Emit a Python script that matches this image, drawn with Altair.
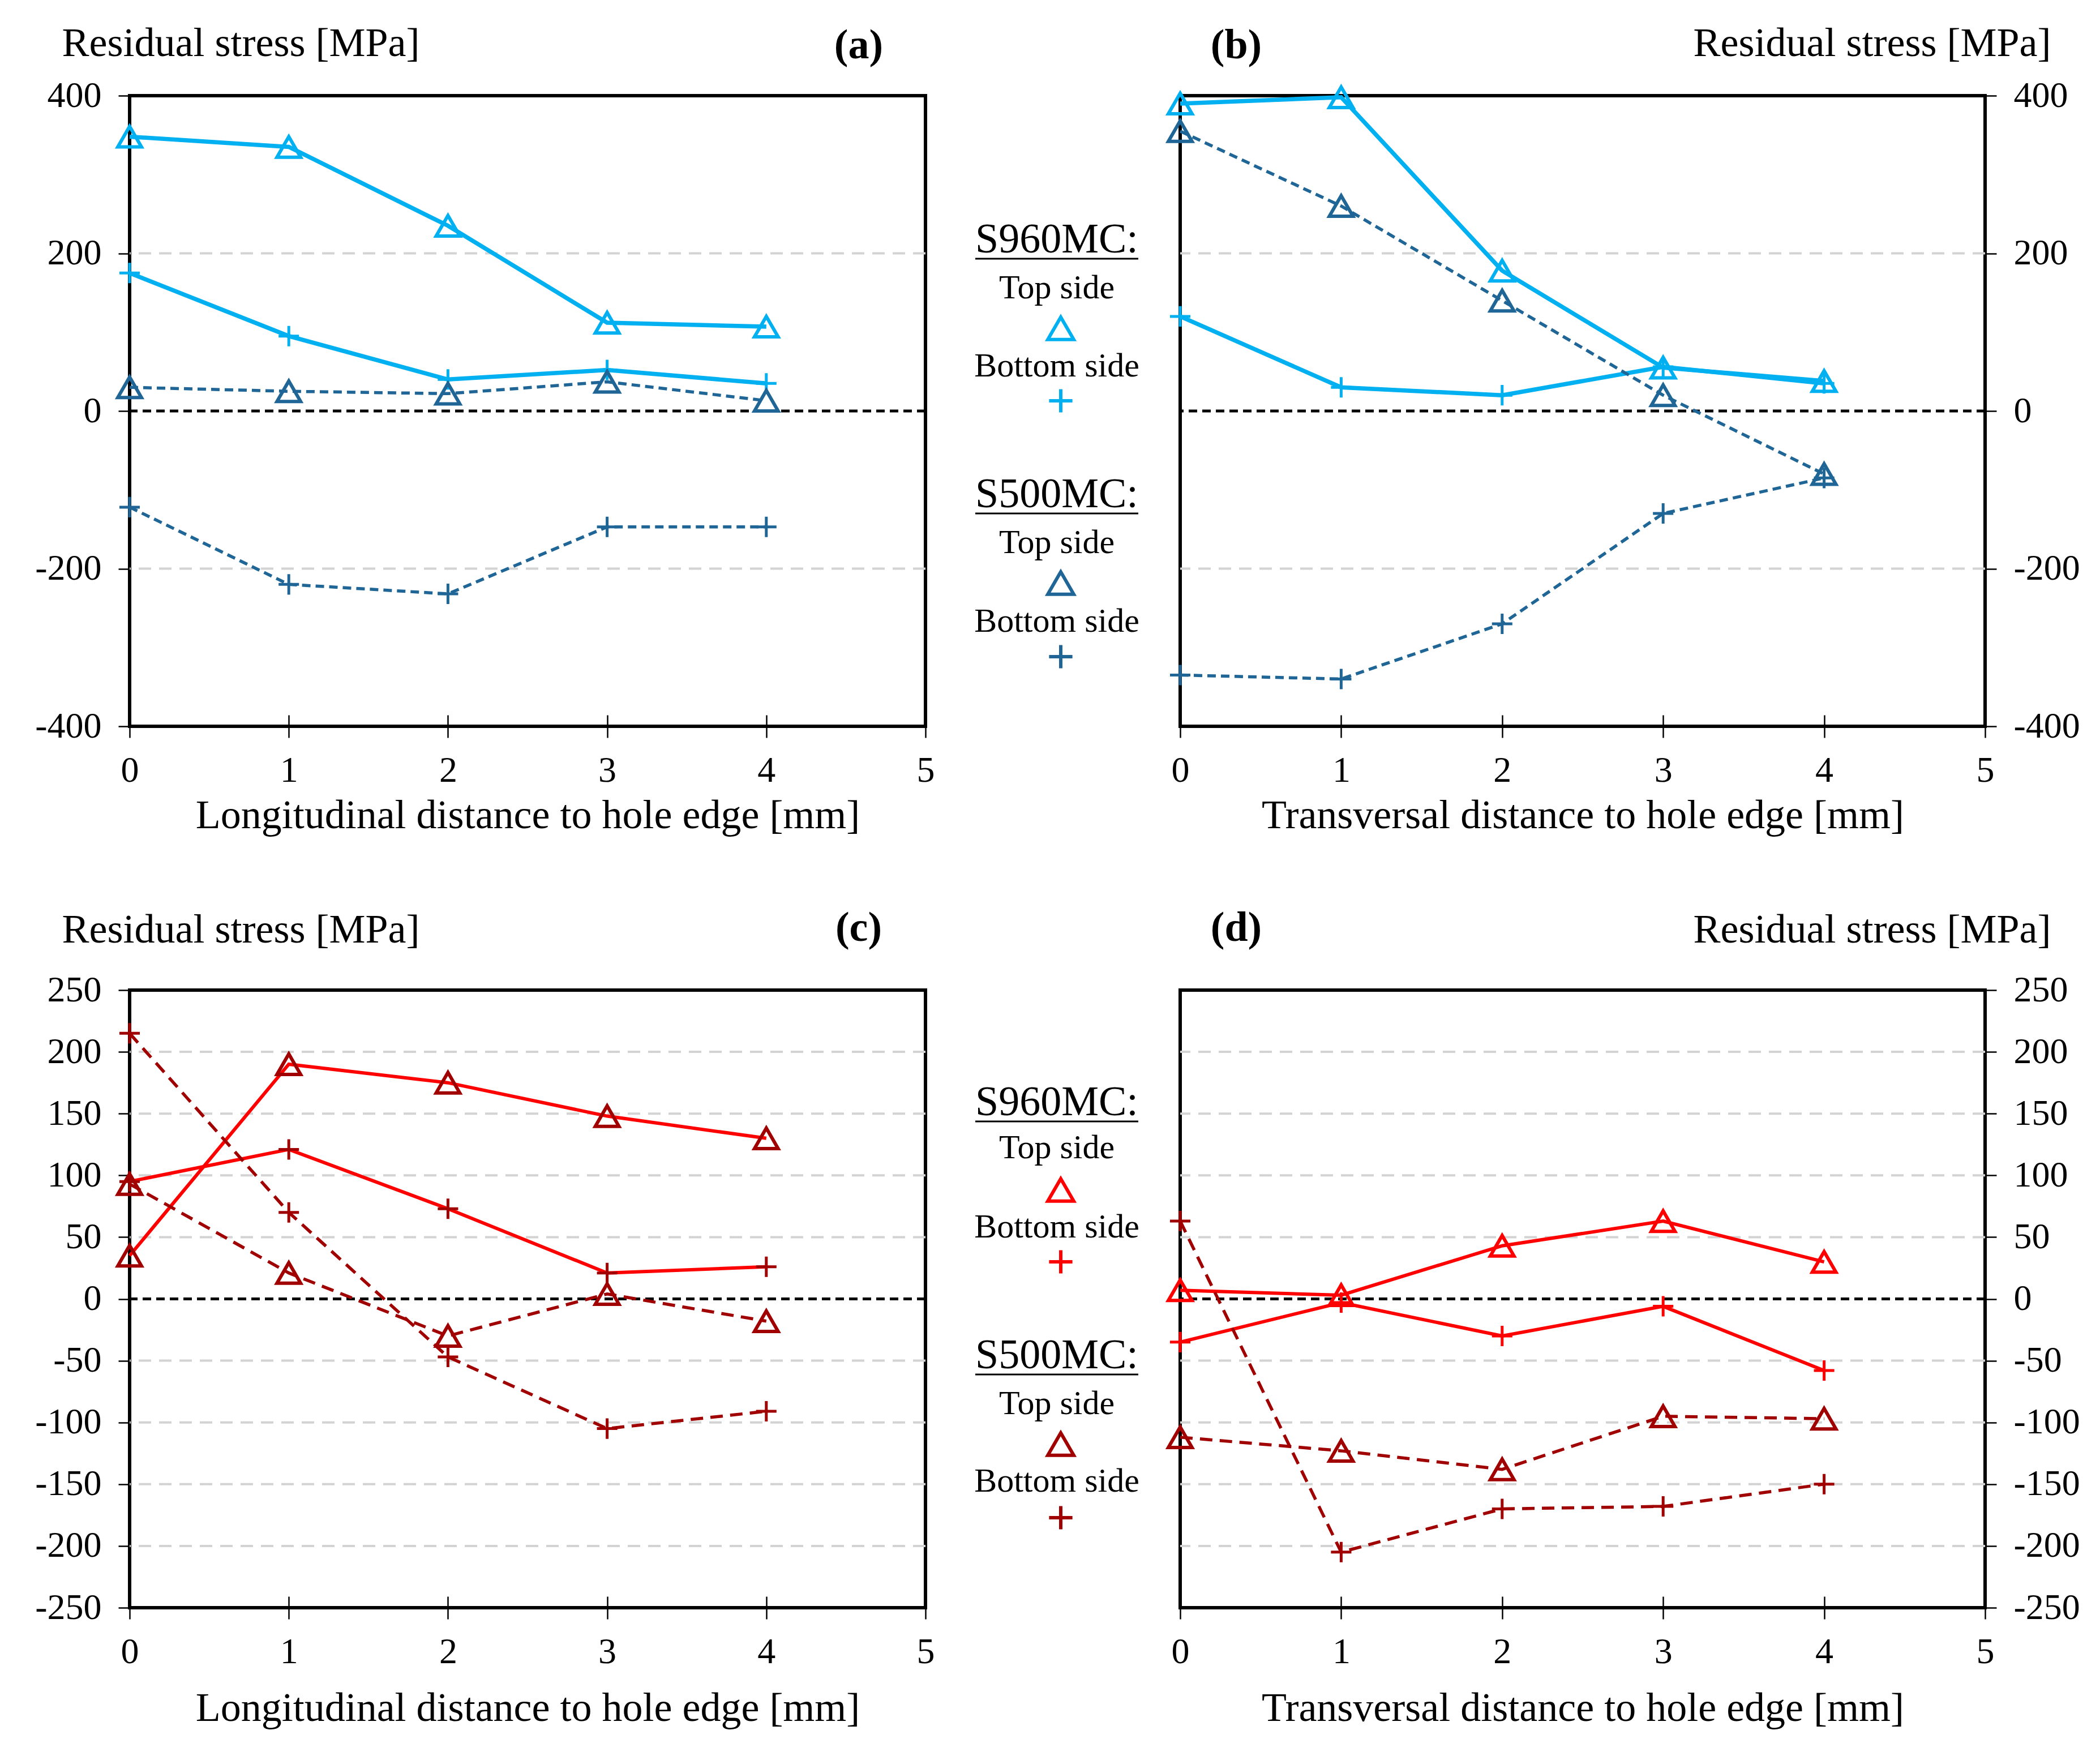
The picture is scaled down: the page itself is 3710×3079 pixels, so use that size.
import altair as alt
import pandas as pd

FONT = "Liberation Serif"
X = [0, 1, 2, 3, 4]
X_TICKS = [0, 1, 2, 3, 4, 5]

# Panel (a): longitudinal, S960MC / S500MC
a_960_top = [348, 335, 235, 112, 107]
a_960_bot = [175, 95, 40, 52, 35]
a_500_top = [30, 25, 22, 37, 13]
a_500_bot = [-122, -220, -232, -147, -147]
# Panel (b): transversal
b_960_top = [390, 398, 178, 55, 38]
b_960_bot = [120, 30, 20, 56, 35]
b_500_top = [355, 260, 140, 20, -80]
b_500_bot = [-335, -340, -270, -130, -85]
# Panel (c): longitudinal
c_960_top = [35, 190, 175, 148, 130]
c_960_bot = [95, 121, 73, 21, 26]
c_500_top = [93, 21, -30, 4, -18]
c_500_bot = [215, 70, -47, -105, -91]
# Panel (d): transversal
d_960_top = [7, 3, 43, 63, 30]
d_960_bot = [-35, -3, -30, -6, -58]
d_500_top = [-112, -123, -138, -95, -97]
d_500_bot = [63, -205, -170, -168, -150]

TICKS_400 = [-400, -200, 0, 200, 400]
GRID_400 = [-200, 200]
TICKS_250 = [-250, -200, -150, -100, -50, 0, 50, 100, 150, 200, 250]
GRID_250 = [-200, -150, -100, -50, 50, 100, 150, 200]

LBLUE = "#00B0F0"
DBLUE = "#1F6697"
RED = "#FF0000"
DRED = "#A00000"
PLUS = "M-1,0H1M0,-1V1"

W_L, W_R = 1406, 1422
H_TOP, H_BOT = 1114, 1091


def panel(series, ydom, yticks, grid_vals, orient, W, H, xtitle, label,
          label_x, label_y, title_y, title_pad, legend=None):
    yaxis_kw = dict(
        values=yticks, orient=orient, grid=False, domain=False,
        tickSize=20, tickWidth=2.5, tickColor="black",
        labelFont=FONT, labelFontSize=64, labelColor="black", labelPadding=30,
        labelFlush=False, labelOverlap=False, labelExpr="'' + datum.value",
        title="Residual stress [MPa]", titleFont=FONT, titleFontSize=72,
        titleFontWeight="normal", titleColor="black", titleAngle=0,
        titleBaseline="alphabetic", titleY=title_y,
    )
    if orient == "left":
        yaxis_kw.update(titleAlign="left", titleX=-120)
    else:
        yaxis_kw.update(titleAlign="right", titleX=116)
    yaxis = alt.Axis(**yaxis_kw)
    xaxis = alt.Axis(
        values=X_TICKS, orient="bottom", grid=False, domain=False,
        tickSize=40, offset=-20, tickWidth=2.5, tickColor="black",
        labelFont=FONT, labelFontSize=64, labelColor="black", labelPadding=26,
        labelFlush=False, labelOverlap=False,
        title=xtitle, titleFont=FONT, titleFontSize=72, titleFontWeight="normal",
        titleColor="black", titlePadding=title_pad,
    )
    yscale = alt.Scale(domain=ydom, nice=False, zero=False)
    xscale = alt.Scale(domain=[0, 5], nice=False, zero=False)
    yenc = alt.Y("y:Q", scale=yscale, axis=yaxis)
    xenc = alt.X("x:Q", scale=xscale, axis=xaxis)

    layers = []
    layers.append(
        alt.Chart(pd.DataFrame({"y": grid_vals}))
        .mark_rule(color="#D3D3D3", strokeWidth=4, strokeDash=[22, 14])
        .encode(y=yenc)
    )
    layers.append(
        alt.Chart(pd.DataFrame({"y": [0]}))
        .mark_rule(color="black", strokeWidth=5, strokeDash=[15, 9])
        .encode(y=yenc)
    )
    for vals, lc, lw, dash, shape, mc in series:
        df = pd.DataFrame({"x": X, "y": vals})
        kw = dict(color=lc, strokeWidth=lw)
        if dash:
            kw["strokeDash"] = dash
        layers.append(alt.Chart(df).mark_line(**kw).encode(x=xenc, y=yenc))
    for vals, lc, lw, dash, shape, mc in series:
        df = pd.DataFrame({"x": X, "y": vals})
        if shape == "tri":
            m = alt.Chart(df).mark_point(shape="triangle-up", filled=False,
                                         size=1750, strokeWidth=6, color=mc,
                                         opacity=1)
        else:
            m = alt.Chart(df).mark_point(shape=PLUS, filled=False, size=1300,
                                         strokeWidth=5, color=mc, opacity=1)
        layers.append(m.encode(x=xenc, y=yenc))
    layers.append(
        alt.Chart(pd.DataFrame({"t": [label]}))
        .mark_text(font=FONT, fontSize=74, fontWeight="bold", color="black",
                   align="center", baseline="middle")
        .encode(text="t:N", x=alt.value(label_x), y=alt.value(label_y))
    )
    if legend is not None:
        layers.extend(legend)
    return alt.layer(*layers).properties(width=W, height=H)


def legend_layers(ys, c960, c500):
    out = []
    tx, mx = -218, -211
    items = [
        ("S960MC:", 74), ("Top side", 60), None, ("Bottom side", 60), None,
        ("S500MC:", 74), ("Top side", 60), None, ("Bottom side", 60), None,
    ]
    for i, it in enumerate(items):
        y = ys[i]
        if it is not None:
            txt, fs = it
            out.append(
                alt.Chart(pd.DataFrame({"t": [txt]}))
                .mark_text(font=FONT, fontSize=fs, color="black",
                           align="center", baseline="middle")
                .encode(text="t:N", x=alt.value(tx), y=alt.value(y))
            )
            if fs == 74:
                out.append(
                    alt.Chart(pd.DataFrame({"t": [txt]}))
                    .mark_rule(color="black", strokeWidth=3)
                    .encode(x=alt.value(tx - 144), x2=alt.value(tx + 144),
                            y=alt.value(y + 33))
                )
    marks = [(2, "tri", c960), (4, "plus", c960), (7, "tri", c500), (9, "plus", c500)]
    for idx, shp, col in marks:
        df = pd.DataFrame({"t": [shp]})
        if shp == "tri":
            m = alt.Chart(df).mark_point(shape="triangle-up", filled=False,
                                         size=2100, strokeWidth=6, color=col,
                                         opacity=1)
        else:
            m = alt.Chart(df).mark_point(shape=PLUS, filled=False, size=1700,
                                         strokeWidth=6, color=col, opacity=1)
        out.append(m.encode(x=alt.value(mx), y=alt.value(ys[idx])))
    return out


LEG_Y_TOP = [255, 340, 411, 478, 539, 705, 790, 861, 929, 991]
LEG_Y_BOT = [199, 279, 353, 419, 480, 646, 731, 802, 868, 932]

DASH_B = [15, 9]
DASH_R = [22, 13]

pa = panel(
    [(a_960_top, LBLUE, 7.5, None, "tri", LBLUE),
     (a_960_bot, LBLUE, 7.5, None, "plus", LBLUE),
     (a_500_top, DBLUE, 5.5, DASH_B, "tri", DBLUE),
     (a_500_bot, DBLUE, 5.5, DASH_B, "plus", DBLUE)],
    [-400, 400], TICKS_400, GRID_400, "left", W_L, H_TOP,
    "Longitudinal distance to hole edge  [mm]", "(a)", 1288, -88, -71, 12)

pb = panel(
    [(b_960_top, LBLUE, 7.5, None, "tri", LBLUE),
     (b_960_bot, LBLUE, 7.5, None, "plus", LBLUE),
     (b_500_top, DBLUE, 5.5, DASH_B, "tri", DBLUE),
     (b_500_bot, DBLUE, 5.5, DASH_B, "plus", DBLUE)],
    [-400, 400], TICKS_400, GRID_400, "right", W_R, H_TOP,
    "Transversal  distance  to hole edge [mm]", "(b)", 99, -88, -71, 12,
    legend=legend_layers(LEG_Y_TOP, LBLUE, DBLUE))

pc = panel(
    [(c_960_top, RED, 6, None, "tri", DRED),
     (c_960_bot, RED, 6, None, "plus", DRED),
     (c_500_top, DRED, 5.5, DASH_R, "tri", DRED),
     (c_500_bot, DRED, 5.5, DASH_R, "plus", DRED)],
    [-250, 250], TICKS_250, GRID_250, "left", W_L, H_BOT,
    "Longitudinal distance to hole edge [mm]", "(c)", 1288, -109, -85, 32)

pd_ = panel(
    [(d_960_top, RED, 6, None, "tri", RED),
     (d_960_bot, RED, 6, None, "plus", RED),
     (d_500_top, DRED, 5.5, DASH_R, "tri", DRED),
     (d_500_bot, DRED, 5.5, DASH_R, "plus", DRED)],
    [-250, 250], TICKS_250, GRID_250, "right", W_R, H_BOT,
    "Transversal  distance  to hole edge [mm]", "(d)", 99, -109, -85, 32,
    legend=legend_layers(LEG_Y_BOT, RED, DRED))

chart = (
    alt.concat(pa, pb, pc, pd_, columns=2,
               spacing={"row": 466, "column": 450},
               align="each", bounds="flush")
    .properties(padding={"left": 50, "top": 29, "right": 10, "bottom": 10},
                background="white")
    .configure_view(stroke="black", strokeWidth=6)
)

chart.save("out.html", embed_options={"renderer": "svg", "actions": False})
